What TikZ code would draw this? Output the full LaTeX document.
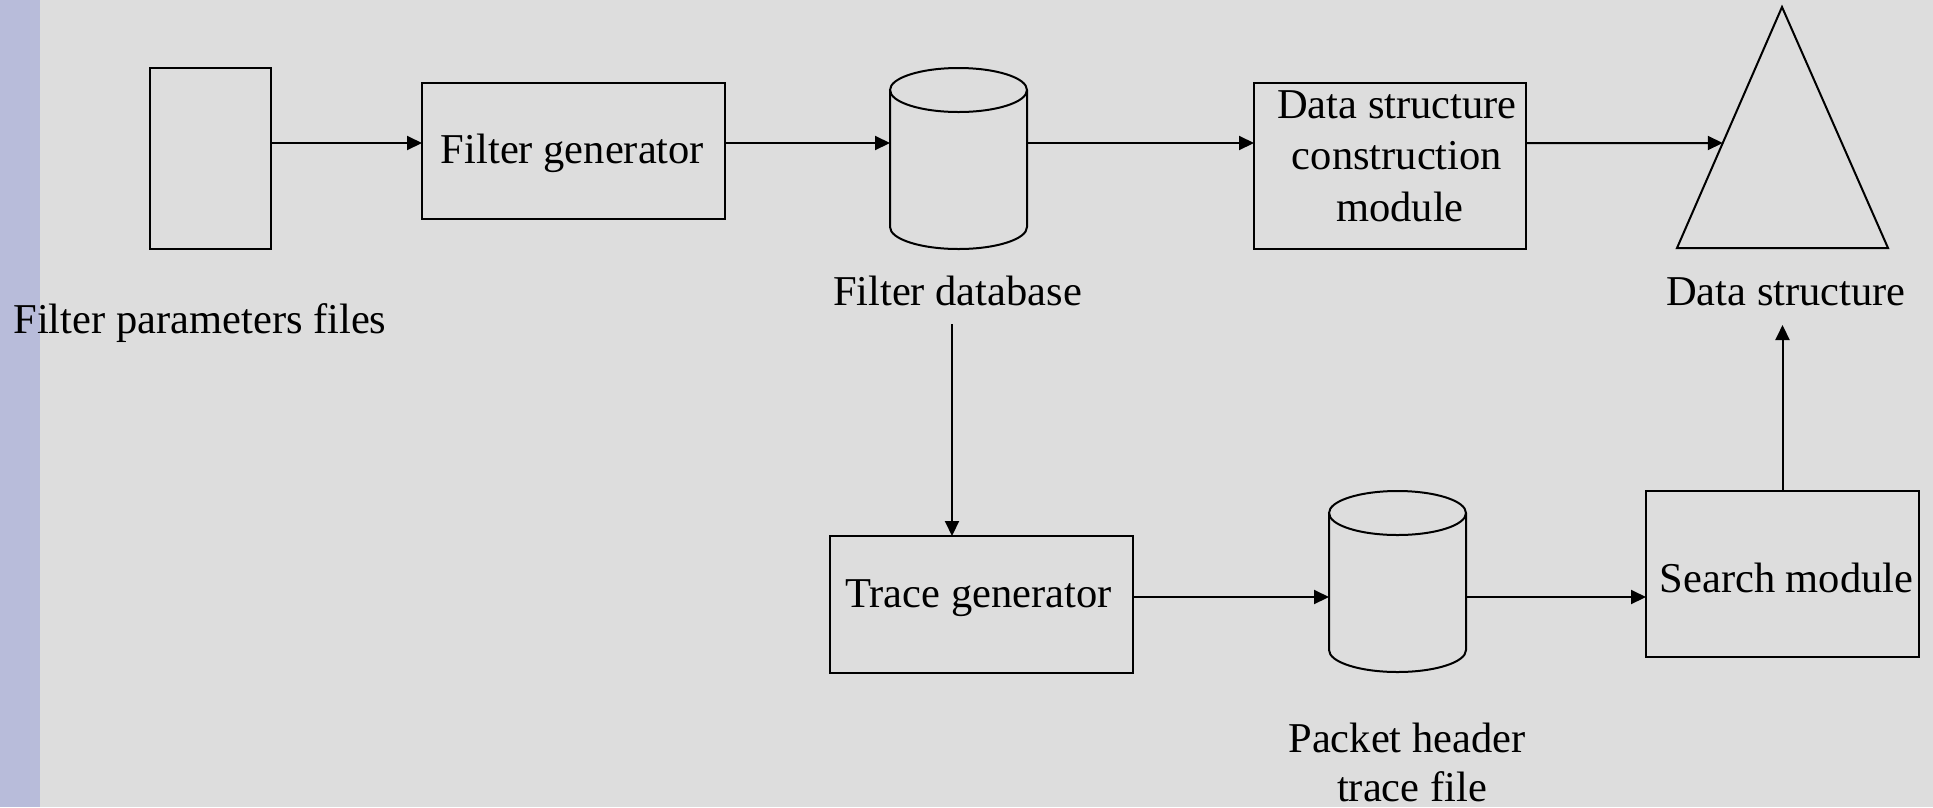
\documentclass[tikz,border=0pt]{standalone}
\usepackage{fontspec}
\setmainfont{Liberation Serif}
\usetikzlibrary{arrows.meta,calc}
\definecolor{bgcol}{RGB}{221,221,221}
\definecolor{stripecol}{RGB}{184,188,218}
\begin{document}
\begin{tikzpicture}[x=1pt,y=-1pt,
  every node/.style={outer sep=0pt},
  boxnode/.style={draw=black,line width=2pt,rectangle,inner sep=0pt},
  ghost/.style={rectangle,inner sep=0pt},
  lbl/.style={anchor=base,inner sep=0pt,font=\fontsize{42.5}{50}\selectfont},
  arr/.style={line width=2pt,-{Triangle[length=15pt,width=14pt]}},
  outline/.style={draw=black,line width=2pt}]
\useasboundingbox (0,0) rectangle (1933,807);
\fill[bgcol] (0,0) rectangle (1933,807);
\fill[stripecol] (0,0) rectangle (40,807);

% shapes
\node[boxnode,minimum width=121pt,minimum height=181pt] (fpf) at (210.5,158.5) {};
\node[boxnode,minimum width=303pt,minimum height=136pt] (fg) at (573.5,151) {};
\node[ghost,minimum width=137pt,minimum height=181pt] (fdb) at (958.5,158.5) {};
\node[boxnode,minimum width=272pt,minimum height=166pt] (dscm) at (1390,166) {};
\node[boxnode,minimum width=303pt,minimum height=137pt] (tg) at (981.5,604.5) {};
\node[ghost,minimum width=137pt,minimum height=181pt] (phf) at (1397.5,581.5) {};
\node[boxnode,minimum width=273pt,minimum height=166pt] (sm) at (1782.5,574) {};

% cylinders
\draw[outline] (890,90) -- (890,227) arc[start angle=180,end angle=0,x radius=68.5,y radius=22] -- (1027,90);
\draw[outline] (958.5,90) ellipse[x radius=68.5,y radius=22];
\draw[outline] (1329,513) -- (1329,650) arc[start angle=180,end angle=0,x radius=68.5,y radius=22] -- (1466,513);
\draw[outline] (1397.5,513) ellipse[x radius=68.5,y radius=22];

% triangle
\coordinate (dsA) at (1782,7);
\coordinate (dsL) at (1677,248);
\coordinate (dsR) at (1888,248);
\draw[outline,line join=miter] (dsA) -- (dsR) -- (dsL) -- cycle;
\coordinate (dshit) at ($(dsL)!0.4357!(dsA)$);

% texts
\node[lbl] (fpflbl) at (200,333) {Filter parameters files};
\node[lbl] (fglbl) at (572.5,163) {Filter generator};
\node[lbl] (fdblbl) at (957.5,305) {Filter database};
\node[lbl] (dscm1) at (1397,118) {Data structure};
\node[lbl] (dscm2) at (1397,169) {construction};
\node[lbl] (dscm3) at (1400,221) {module};
\node[lbl] (dslbl) at (1786,305) {Data structure};
\node[lbl] (tglbl) at (978.5,607) {Trace generator};
\node[lbl] (phf1) at (1407,752) {Packet header};
\node[lbl,text depth=0pt] (phf2) at (1412,801) {trace file};
\node[lbl] (smlbl) at (1786.5,592) {Search module};

% connectors
\coordinate (row1) at (0,143);
\coordinate (row2) at (0,597);
\coordinate (vstart) at (952,324);
\coordinate (dsbot) at (1782.5,325);
\draw[arr] (fpf.east |- row1) -- (fg.west |- row1);
\draw[arr] (fg.east |- row1) -- (fdb.west |- row1);
\draw[arr] (fdb.east |- row1) -- (dscm.west |- row1);
\draw[arr] (dscm.east |- row1) -- (dshit);
\draw[arr] (vstart) -- (vstart |- tg.north);
\draw[arr] (tg.east |- row2) -- (phf.west |- row2);
\draw[arr] (phf.east |- row2) -- (sm.west |- row2);
\draw[arr] (sm.north) -- (dsbot);
\end{tikzpicture}
\end{document}
